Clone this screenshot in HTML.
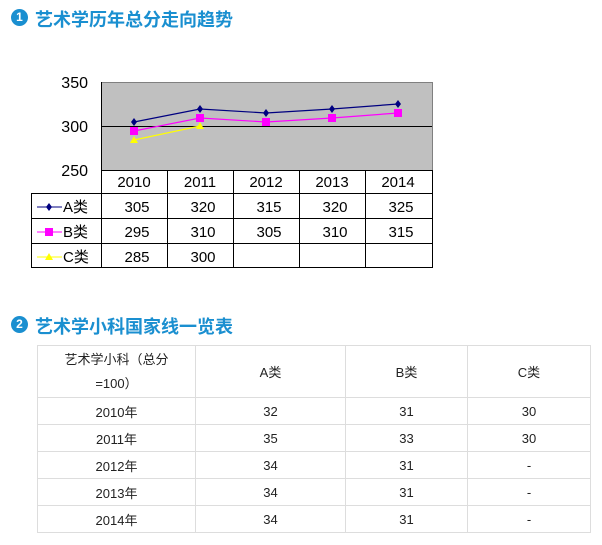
<!DOCTYPE html>
<html><head><meta charset="utf-8"><style>
body{margin:0;width:602px;height:545px;background:#fff;position:relative;font-family:"Liberation Sans","Noto Sans CJK SC",sans-serif;overflow:hidden}
.h{position:absolute;font-weight:bold;font-size:18px;color:#1a8fd0;font-family:"Liberation Sans","Noto Sans CJK SC",sans-serif}
.c{position:absolute;width:17px;height:17px;border-radius:50%;background:#1a8fd0;color:#fff;font-size:12px;font-weight:bold;text-align:center;line-height:17px}
table{position:absolute;border-collapse:collapse;table-layout:fixed}
td{text-align:center;font-size:13px;color:#222;border:1px solid #ddd;padding:0}
</style></head><body>
<div class="c" style="left:11px;top:9px">1</div>
<div class="h" style="left:35px;top:6px">艺术学历年总分走向趋势</div>
<svg style="position:absolute;left:0;top:0" width="602" height="300">
<g font-family="Liberation Sans,sans-serif" font-size="16" fill="#000">
<text x="88" y="88" text-anchor="end">350</text>
<text x="88" y="132" text-anchor="end">300</text>
<text x="88" y="176" text-anchor="end">250</text>
</g>
<rect x="101.5" y="82.5" width="331" height="88" fill="#c0c0c0" stroke="#808080"/>
<line x1="101" y1="126.5" x2="432" y2="126.5" stroke="#000"/>
<line x1="101.5" y1="82" x2="101.5" y2="268" stroke="#000"/>
<g stroke="#000" fill="none">
<rect x="101.5" y="170.5" width="331" height="97"/>
<rect x="31.5" y="193.5" width="401" height="74"/>
<line x1="101" y1="193.5" x2="432" y2="193.5"/>
<line x1="31" y1="218.5" x2="432" y2="218.5"/>
<line x1="31" y1="243.5" x2="432" y2="243.5"/>
<line x1="167.5" y1="170" x2="167.5" y2="268"/>
<line x1="233.5" y1="170" x2="233.5" y2="268"/>
<line x1="299.5" y1="170" x2="299.5" y2="268"/>
<line x1="365.5" y1="170" x2="365.5" y2="268"/>
</g>
<polyline points="134,122 200,109 266,113 332,109 398,104" fill="none" stroke="#000080" stroke-width="1.2"/>
<polyline points="134,131 200,118 266,122 332,118 398,113" fill="none" stroke="#ff00ff" stroke-width="1.2"/>
<polyline points="134,140 200,126" fill="none" stroke="#ffff00" stroke-width="1.2"/>
<g fill="#000080"><path d="M134,118 l3,4 -3,4 -3,-4z"/><path d="M200,105 l3,4 -3,4 -3,-4z"/><path d="M266,109 l3,4 -3,4 -3,-4z"/><path d="M332,105 l3,4 -3,4 -3,-4z"/><path d="M398,100 l3,4 -3,4 -3,-4z"/></g>
<g fill="#ff00ff"><rect x="130" y="127" width="8" height="8"/><rect x="196" y="114" width="8" height="8"/><rect x="262" y="118" width="8" height="8"/><rect x="328" y="114" width="8" height="8"/><rect x="394" y="109" width="8" height="8"/></g>
<g fill="#ffff00"><path d="M134,136 l4,7 h-8z"/><path d="M200,122 l4,7 h-8z"/></g>
<g font-family="Liberation Sans,sans-serif" font-size="15" fill="#000" text-anchor="middle">
<text x="134" y="187">2010</text><text x="200" y="187">2011</text><text x="266" y="187">2012</text><text x="332" y="187">2013</text><text x="398" y="187">2014</text>
<text x="137" y="212">305</text><text x="203" y="212">320</text><text x="269" y="212">315</text><text x="335" y="212">320</text><text x="401" y="212">325</text>
<text x="137" y="237">295</text><text x="203" y="237">310</text><text x="269" y="237">305</text><text x="335" y="237">310</text><text x="401" y="237">315</text>
<text x="137" y="262">285</text><text x="203" y="262">300</text>
</g>
<line x1="37" y1="207" x2="62" y2="207" stroke="#000080"/><path d="M49,203 l3,4 -3,4 -3,-4z" fill="#000080"/>
<line x1="37" y1="232" x2="62" y2="232" stroke="#ff00ff"/><rect x="45" y="228" width="8" height="8" fill="#ff00ff"/>
<line x1="37" y1="257" x2="62" y2="257" stroke="#ffff00"/><path d="M49,253 l4,7 h-8z" fill="#ffff00"/>
<g font-family="Liberation Sans,Noto Sans CJK SC,sans-serif" font-size="15" fill="#000">
<text x="63" y="212">A类</text><text x="63" y="237">B类</text><text x="63" y="262">C类</text>
</g>
</svg>
<div class="c" style="left:11px;top:316px">2</div>
<div class="h" style="left:35px;top:313px">艺术学小科国家线一览表</div>
<table style="left:37px;top:345px;width:554px">
<colgroup><col style="width:158px"><col style="width:150px"><col style="width:122px"><col></colgroup>
<tr style="height:52px"><td style="line-height:24px">艺术学小科（总分<br>=100）</td><td>A类</td><td>B类</td><td>C类</td></tr>
<tr style="height:27px"><td>2010年</td><td>32</td><td>31</td><td>30</td></tr>
<tr style="height:27px"><td>2011年</td><td>35</td><td>33</td><td>30</td></tr>
<tr style="height:27px"><td>2012年</td><td>34</td><td>31</td><td>-</td></tr>
<tr style="height:27px"><td>2013年</td><td>34</td><td>31</td><td>-</td></tr>
<tr style="height:27px"><td>2014年</td><td>34</td><td>31</td><td>-</td></tr>
</table>
</body></html>
